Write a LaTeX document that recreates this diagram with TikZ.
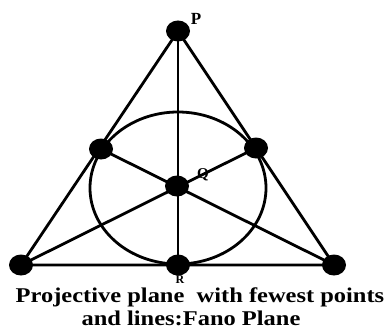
\documentclass[tikz,border=0pt]{standalone}
\usepackage{fontspec}
\setmainfont{Liberation Serif}
\usepackage{tikz}
\usetikzlibrary{positioning,calc}

\begin{document}
\begin{tikzpicture}[x=1pt,y=-1pt,line width=2.8pt,
  lbl/.style={inner sep=0pt},
  captext/.style={font=\bfseries\fontsize{21}{25}\selectfont,anchor=base,inner sep=0pt}]
  \useasboundingbox (0,0) rectangle (388,329);
  % the seven points
  \coordinate (p) at (178,31);
  \coordinate (bl) at (21,265);
  \coordinate (br) at (334,265);
  \coordinate (r) at (178,265);
  \coordinate (l) at (101,149);
  \coordinate (rt) at (256,148);
  \coordinate (q) at (177,186);
  % the seven lines
  \draw (p) -- (bl) -- (br) -- cycle;
  \draw (p) -- (r);
  \draw (bl) -- (rt);
  \draw (br) -- (l);
  \draw (178,188) ellipse [x radius=88,y radius=76];
  \foreach \n in {p,bl,br,r,l,rt,q}
    \fill (\n) ellipse [x radius=12,y radius=10.5];
  \node[lbl,font=\bfseries\fontsize{17}{17}\selectfont] (plab) at (196,19) {P};
  \node[lbl,font=\bfseries\fontsize{15}{15}\selectfont] (qlab) at (203,175) {Q};
  \node[lbl,font=\bfseries\fontsize{12}{12}\selectfont] (rlab) at (180,279.5) {R};
  \node[captext] (capa) at (200,302) {\scalebox{1.165}[1]{Projective plane\ \ with fewest points}};
  \node[captext] (capb) at (191,325) {\scalebox{1.165}[1]{and lines:Fano Plane}};
\end{tikzpicture}
\end{document}
